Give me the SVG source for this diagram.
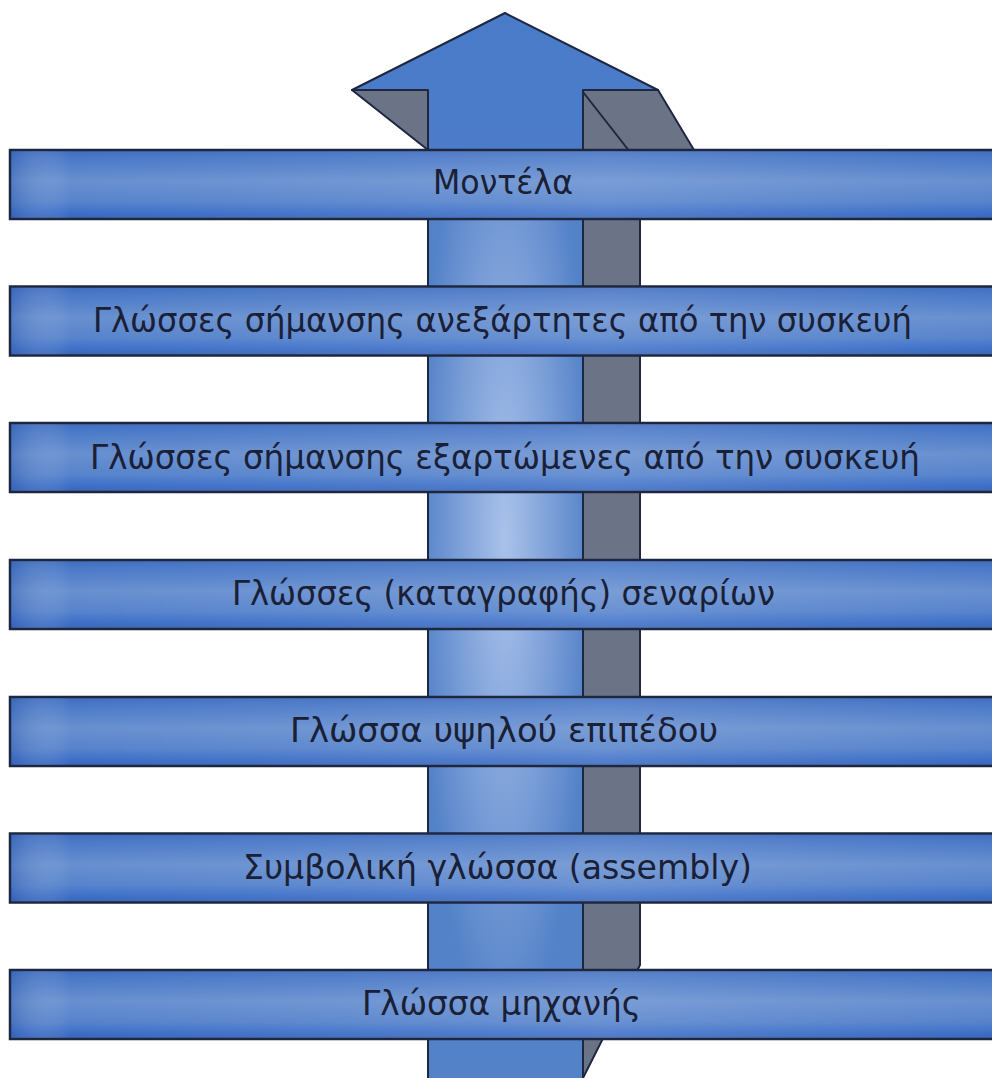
<svg xmlns="http://www.w3.org/2000/svg" width="992" height="1078" viewBox="0 0 992 1078">
  <defs>
    <linearGradient id="barV" x1="0" y1="0" x2="0" y2="1">
      <stop offset="0" stop-color="#3f6cbd"/>
      <stop offset="0.12" stop-color="#4a79c8"/>
      <stop offset="0.45" stop-color="#6890d0"/>
      <stop offset="0.75" stop-color="#5683cc"/>
      <stop offset="0.9" stop-color="#3e70c9"/>
      <stop offset="1" stop-color="#3a66b4"/>
    </linearGradient>
    <linearGradient id="barH" x1="0" y1="0" x2="1" y2="0">
      <stop offset="0" stop-color="#2a55a8" stop-opacity="0.35"/>
      <stop offset="0.06" stop-color="#ffffff" stop-opacity="0"/>
      <stop offset="0.6" stop-color="#ffffff" stop-opacity="0.12"/>
      <stop offset="1" stop-color="#ffffff" stop-opacity="0"/>
    </linearGradient>
    <radialGradient id="shaft" gradientUnits="userSpaceOnUse" cx="505" cy="540" r="100" gradientTransform="translate(505 540) scale(0.85 5) translate(-505 -540)">
      <stop offset="0" stop-color="#a9c2ea"/>
      <stop offset="0.55" stop-color="#7c9fd8"/>
      <stop offset="1" stop-color="#5382c8"/>
    </radialGradient>
    <linearGradient id="head" x1="0" y1="0" x2="0" y2="1">
      <stop offset="0" stop-color="#4a7bc9"/>
      <stop offset="1" stop-color="#5a86cc"/>
    </linearGradient>
    <style>
      .bar { fill: url(#barV); stroke: #1d2740; stroke-width: 2.5; }
      .barhi { fill: url(#barH); }
      .gray { fill: #6b7487; stroke: #1d2740; stroke-width: 2; stroke-linejoin: round; }
      .edge { fill: none; stroke: #1d2740; stroke-width: 2; }
      .lbl { font-family: "DejaVu Sans", "Noto Sans", sans-serif; font-size: 33px; fill: #1a2036; }
    </style>
  </defs>
  <rect width="992" height="1078" fill="#ffffff"/>

  <g id="arrow">
    <polygon class="gray" points="352,90 428,90 428,150"/>
    <polygon class="gray" points="583,90 658,90 700,160 640,200 640,965 583,1078"/>
    <line class="edge" x1="583" y1="92" x2="630" y2="152"/>
    <polygon points="505,13 658,90 583,90 583,1080 428,1080 428,90 352,90" fill="url(#head)" stroke="#1d2740" stroke-width="2" stroke-linejoin="round"/>
    <rect x="428" y="150" width="155" height="930" fill="url(#shaft)"/>
    <line class="edge" x1="428" y1="90" x2="428" y2="1080"/>
    <line class="edge" x1="583" y1="90" x2="583" y2="1080"/>
  </g>

  <g id="bar-models">
    <rect class="bar" x="10" y="150" width="990" height="69"/>
    <rect class="barhi" x="11" y="151" width="990" height="67"/>
    <text class="lbl" x="433" y="194" textLength="140" lengthAdjust="spacingAndGlyphs">Μοντέλα</text>
  </g>
  <g id="bar-indep">
    <rect class="bar" x="10" y="286.5" width="990" height="69"/>
    <rect class="barhi" x="11" y="287.5" width="990" height="67"/>
    <text class="lbl" x="93" y="332" textLength="819" lengthAdjust="spacingAndGlyphs">Γλώσσες σήμανσης ανεξάρτητες από την συσκευή</text>
  </g>
  <g id="bar-dep">
    <rect class="bar" x="10" y="423" width="990" height="69"/>
    <rect class="barhi" x="11" y="424" width="990" height="67"/>
    <text class="lbl" x="90" y="468.5" textLength="830" lengthAdjust="spacingAndGlyphs">Γλώσσες σήμανσης εξαρτώμενες από την συσκευή</text>
  </g>
  <g id="bar-script">
    <rect class="bar" x="10" y="560" width="990" height="69"/>
    <rect class="barhi" x="11" y="561" width="990" height="67"/>
    <text class="lbl" x="232" y="605" textLength="543" lengthAdjust="spacingAndGlyphs">Γλώσσες (καταγραφής) σεναρίων</text>
  </g>
  <g id="bar-high">
    <rect class="bar" x="10" y="697" width="990" height="69"/>
    <rect class="barhi" x="11" y="698" width="990" height="67"/>
    <text class="lbl" x="290" y="742" textLength="428" lengthAdjust="spacingAndGlyphs">Γλώσσα υψηλού επιπέδου</text>
  </g>
  <g id="bar-asm">
    <rect class="bar" x="10" y="833.5" width="990" height="69"/>
    <rect class="barhi" x="11" y="834.5" width="990" height="67"/>
    <text class="lbl" x="243" y="878.5" textLength="509" lengthAdjust="spacingAndGlyphs">Συμβολική γλώσσα (assembly)</text>
  </g>
  <g id="bar-machine">
    <rect class="bar" x="10" y="970" width="990" height="69"/>
    <rect class="barhi" x="11" y="971" width="990" height="67"/>
    <text class="lbl" x="362" y="1015" textLength="279" lengthAdjust="spacingAndGlyphs">Γλώσσα μηχανής</text>
  </g>
</svg>
